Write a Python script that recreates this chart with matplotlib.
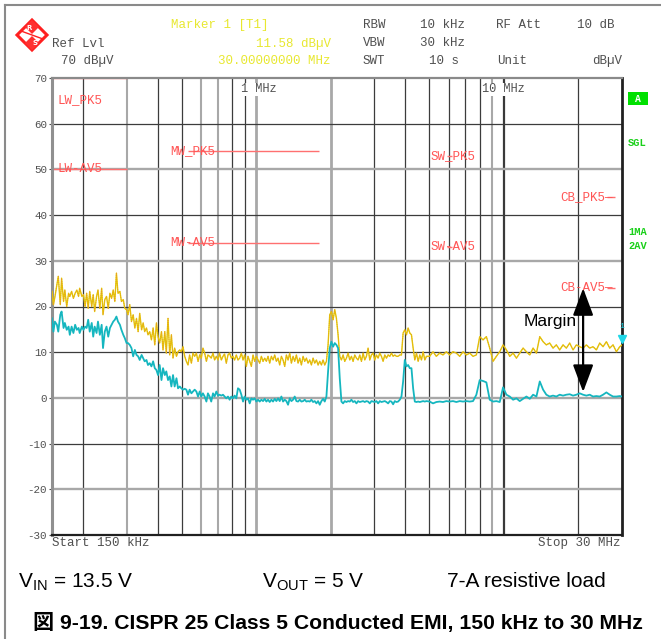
import matplotlib
matplotlib.use("Agg")
import matplotlib.pyplot as plt
from matplotlib.patches import Polygon, Rectangle

plt.rcParams["axes.unicode_minus"] = False

# ---- sweep data: frequency (MHz), peak and average detector (dBuV) ----
freq_mhz = [
    0.150, 0.152, 0.154, 0.157, 0.159, 0.162, 0.164, 0.167, 0.169, 0.172,
    0.175, 0.177, 0.180, 0.183, 0.186, 0.189, 0.192, 0.194, 0.198, 0.201,
    0.204, 0.207, 0.210, 0.213, 0.217, 0.220, 0.223, 0.227, 0.230, 0.234,
    0.238, 0.241, 0.245, 0.249, 0.253, 0.257, 0.261, 0.265, 0.269, 0.273,
    0.277, 0.282, 0.286, 0.291, 0.295, 0.300, 0.304, 0.309, 0.314, 0.319,
    0.324, 0.329, 0.334, 0.339, 0.345, 0.350, 0.355, 0.361, 0.366, 0.372,
    0.378, 0.384, 0.390, 0.396, 0.402, 0.408, 0.415, 0.421, 0.428, 0.434,
    0.441, 0.448, 0.455, 0.462, 0.469, 0.477, 0.484, 0.492, 0.499, 0.507,
    0.515, 0.523, 0.531, 0.539, 0.548, 0.556, 0.565, 0.574, 0.583, 0.592,
    0.601, 0.610, 0.620, 0.630, 0.639, 0.649, 0.659, 0.670, 0.680, 0.691,
    0.702, 0.712, 0.724, 0.735, 0.746, 0.758, 0.770, 0.782, 0.794, 0.806,
    0.819, 0.832, 0.845,
    0.8585, 0.8720, 0.8856, 0.8994, 0.9135, 0.9277, 0.9422, 0.9570, 0.9719, 0.9871,
    1.0025, 1.0182, 1.0341, 1.0502, 1.0667, 1.0833, 1.1002, 1.1174, 1.1349, 1.1526,
    1.1706, 1.1889, 1.2075, 1.2264, 1.2455, 1.2650, 1.2847, 1.3048, 1.3252, 1.3459,
    1.3669, 1.3883, 1.4100, 1.4320, 1.4544, 1.4771, 1.5002, 1.5236, 1.5474, 1.5716,
    1.5961, 1.6211, 1.6464, 1.6721, 1.6982, 1.7248, 1.7517, 1.7791, 1.8069, 1.8351,
    1.8638, 1.8929, 1.9225, 1.9525, 1.9830, 2.0140, 2.0455, 2.0774, 2.1099, 2.1428,
    2.1763, 2.2103, 2.2448, 2.2799, 2.3155, 2.3517, 2.3884, 2.4258, 2.4636, 2.5021,
    2.5412, 2.5809, 2.6213, 2.6622, 2.7038, 2.7460, 2.7889, 2.8325, 2.8767, 2.9217,
    2.9673, 3.0137, 3.0608, 3.1086, 3.1572, 3.2065, 3.2566, 3.3075, 3.3591, 3.4116,
    3.4649, 3.5190, 3.5740, 3.6298, 3.6866, 3.7441, 3.8026, 3.8621, 3.9224, 3.9837,
    4.0459, 4.1091, 4.1733, 4.2385, 4.3047, 4.3720, 4.4403, 4.5097, 4.5801, 4.6517,
    4.7243, 4.7981, 4.8731,
    5.020, 5.178, 5.341, 5.509, 5.683, 5.861, 6.046, 6.237, 6.433, 6.636,
    6.845, 7.060, 7.283, 7.512, 7.749, 7.993, 8.245, 8.504, 8.772, 9.049,
    9.333, 9.628, 9.931, 10.244, 10.567, 10.900, 11.243, 11.597, 11.963, 12.339,
    12.728, 13.129, 13.542, 13.969, 14.409, 14.849, 15.317, 15.799, 16.297, 16.810,
    17.340, 17.886, 18.449, 19.030, 19.629, 20.248, 20.885, 21.543, 22.221, 22.921,
    23.643, 24.388, 25.156, 25.948, 26.765, 27.608, 28.478, 29.375, 30.000,
]

peak_dbuv = [
    23.3, 20.4, 22.0, 24.7, 26.6, 20.4, 26.2, 21.1, 23.6, 20.0,
    22.9, 22.2, 23.3, 21.8, 22.9, 23.6, 22.2, 24.0, 22.2, 22.6,
    20.0, 22.9, 19.6, 23.3, 20.0, 22.6, 18.9, 22.2, 23.6, 19.6,
    24.0, 18.2, 21.5, 22.2, 19.6, 22.9, 21.8, 23.6, 21.1, 27.3,
    22.9, 23.3, 21.1, 21.5, 19.6, 19.3, 18.2, 20.4, 16.7, 18.2,
    15.3, 17.4, 14.5, 18.5, 14.9, 16.4, 14.5, 15.3, 13.8, 14.5,
    12.7, 15.3, 11.6, 16.4, 13.4, 12.0, 14.5, 10.5, 14.5, 9.8,
    17.4, 9.4, 13.8, 8.7, 10.9, 9.1, 10.1, 10.5, 10.1, 11.2,
    9.1, 8.0, 7.2, 9.4, 7.6, 9.8, 9.1, 9.8, 8.0, 9.4,
    8.7, 10.9, 9.8, 8.0, 9.4, 9.1, 8.7, 9.8, 8.3, 9.1,
    8.3, 9.8, 8.3, 9.1, 9.6, 7.6, 9.4, 9.8, 8.7, 9.1,
    8.3, 9.4, 8.3,
    8.7, 9.8, 8.3, 9.4, 6.9, 9.1, 8.0, 6.9, 9.4, 8.0,
    9.1, 8.3, 7.6, 9.1, 8.0, 8.7, 8.0, 9.1, 7.6, 9.1,
    8.3, 9.4, 8.0, 8.7, 7.2, 9.1, 8.3, 6.9, 9.4, 8.3,
    9.8, 7.6, 9.1, 8.0, 9.4, 7.6, 8.7, 7.2, 9.1, 8.0,
    8.7, 7.6, 8.3, 7.2, 8.7, 7.6, 8.3, 7.2, 8.0, 7.2,
    8.3, 7.2, 8.0, 11.6, 18.2, 18.9, 17.1, 19.3, 17.4, 13.8,
    9.1, 8.3, 9.4, 8.0, 8.7, 9.8, 8.3, 9.1, 8.0, 9.4,
    8.7, 8.3, 9.4, 8.0, 9.8, 8.3, 9.1, 10.9, 8.3, 9.4,
    9.8, 8.3, 9.4, 8.7, 9.8, 9.1, 8.0, 9.4, 8.7, 9.4,
    9.1, 9.8, 9.1, 9.4, 9.1, 9.1, 9.4, 9.4, 14.2, 14.9,
    13.8, 15.3, 14.2, 13.8, 10.9, 8.3, 9.8, 8.0, 9.4, 8.3,
    10.1, 8.3, 9.1,
    9.1, 10.1, 9.1, 9.8, 9.4, 10.1, 9.4, 10.1, 9.8, 9.1,
    10.1, 9.4, 9.8, 9.1, 9.4, 13.4, 12.7, 13.4, 10.9, 8.0,
    9.1, 10.1, 11.6, 10.5, 9.1, 9.8, 8.7, 9.8, 10.9, 10.1,
    9.4, 10.9, 9.8, 13.4, 12.3, 11.6, 12.0, 10.9, 11.6, 10.5,
    11.6, 10.9, 12.0, 10.5, 11.6, 11.2, 10.9, 11.6, 10.9, 11.2,
    10.5, 12.0, 11.2, 12.3, 10.9, 11.6, 10.1, 11.2, 11.58,
]

avg_dbuv = [
    17.4, 14.5, 16.7, 16.0, 14.5, 18.2, 18.9, 15.3, 16.4, 14.9,
    15.6, 13.8, 15.6, 14.2, 16.0, 14.9, 15.3, 14.2, 15.6, 14.9,
    15.6, 15.3, 17.1, 14.5, 16.4, 13.4, 15.6, 14.2, 16.7, 13.8,
    16.0, 10.9, 14.5, 15.6, 13.4, 15.3, 16.0, 16.7, 17.1, 17.8,
    16.7, 16.0, 14.9, 13.8, 13.1, 12.0, 12.0, 11.6, 10.9, 9.1,
    10.5, 9.4, 9.1, 8.3, 9.4, 8.7, 8.0, 8.3, 7.2, 7.6,
    6.9, 8.0, 6.5, 6.1, 5.0, 7.2, 3.9, 6.5, 5.0, 5.8,
    3.9, 4.7, 2.5, 5.0, 2.5, 4.3, 2.1, 2.5, 2.1, 1.8,
    2.0, 1.8, 0.7, 1.8, 1.0, 1.4, 1.8, 1.4, 0.3, 1.4,
    0.3, 1.0, 0.3, -0.8, 1.0, 0.3, -0.8, 1.0, 0.3, 1.4,
    0.5, 0.7, 0.5, 0.7, 0.3, -0.1, 0.3, -0.4, 0.3, -0.1,
    0.5, -0.1, 2.1,
    1.8, 0.7, -0.8, 0.3, -0.4, -0.1, -1.2, -0.1, -0.4, -0.1,
    -0.8, -0.4, -0.8, -0.4, -0.7, -0.2, -0.8, -0.4, -0.9, -0.4,
    -0.8, -0.2, -0.7, -0.1, -0.7, 0.3, -0.8, -0.4, -0.7, -1.5,
    -0.1, -0.7, -0.4, 0.3, -0.7, -0.8, -0.4, -0.8, -0.7, -0.4,
    -0.8, -0.7, -0.8, -0.4, -0.9, -0.7, -1.2, -0.7, -1.5, -0.7,
    -0.2, -0.8, 0.3, 5.8, 10.9, 12.3, 11.2, 12.0, 11.6, 10.9,
    4.3, -0.8, -1.2, -0.7, -0.9, -0.7, -0.8, -0.4, -0.9, -0.7,
    -1.2, -0.7, -0.9, -0.8, -0.7, -0.9, -0.7, -0.8, -1.2, -0.7,
    -0.8, -0.9, -0.7, -1.2, -0.7, -0.9, -0.8, -0.7, -0.9, -1.2,
    -0.7, -0.8, -1.4, -0.7, -0.9, -0.8, -0.4, 0.3, 3.6, 8.3,
    6.9, 7.2, 6.5, 6.5, 2.1, -0.8, -0.9, -0.8, -0.9, -0.8,
    -0.7, -0.8, -0.7,
    -0.8, -1.2, -0.9, -0.8, -0.9, -0.7, -0.8, -0.7, -0.9, -0.7,
    -0.8, -0.7, -0.8, -0.7, 0.7, 3.9, 3.7, 3.4, -0.4, -0.8,
    -0.7, -0.9, 2.3, 0.7, 0.3, -0.4, -0.1, -0.7, -0.2, 0.3,
    -0.2, 0.7, 0.3, 3.6, 1.8, 0.7, 0.3, 0.5, 0.3, 0.7,
    0.5, 0.7, 0.8, 0.5, 0.7, 1.0, 0.7, 0.5, 0.7, 0.3,
    0.4, 0.3, 0.7, 1.2, 0.7, 0.3, 0.3, 0.4, 0.3,
]

# ---- CISPR 25 class 5 limits (band start/stop in MHz, dBuV) ----
band_names = ["LW", "MW", "SW", "CB"]
band_start = [0.15, 0.53, 5.9, 26.0]
band_stop = [0.30, 1.8, 6.2, 28.0]
limit_pk = [70, 54, 53, 44]
limit_av = [50, 34, 33, 24]

marker_freq = 30.0
marker_level = 11.58

W, H = 661, 639
fig = plt.figure(figsize=(W / 100, H / 100), dpi=100)
fig.patch.set_facecolor("white")

MONO = "Liberation Mono"
GRAY_TXT = "#505050"
YEL_TXT = "#e8e830"
RED = "#ff5555"
GREEN = "#1ad01a"

ax = fig.add_axes([52 / W, 104 / H, 570 / W, 457 / H])
ax.set_xscale("log")
ax.set_xlim(0.15, 30)
ax.set_ylim(-30, 70)
ax.set_xticks([])
ax.minorticks_off()
ax.set_yticks(range(-30, 71, 10))
ax.tick_params(axis="y", length=2.5, width=0.8, color=GRAY_TXT, pad=1,
               labelsize=7.8, labelcolor=GRAY_TXT)
for lab in ax.get_yticklabels():
    lab.set_family(MONO)

ax.spines["left"].set_color("#909090")
ax.spines["left"].set_linewidth(2.2)
ax.spines["top"].set_color("#8a8a8a")
ax.spines["top"].set_linewidth(1.6)
ax.spines["right"].set_color("#202020")
ax.spines["right"].set_linewidth(2.0)
ax.spines["bottom"].set_color("#202020")
ax.spines["bottom"].set_linewidth(1.6)

# grid: analyzer screen mixes thin dark and soft grey lines
grid_f = [0.2, 0.3, 0.4, 0.5, 0.6, 0.7, 0.8, 0.9,
          1, 2, 3, 4, 5, 6, 7, 8, 9, 10, 20]
soft_f = [0.3, 0.6, 0.7, 1, 2, 9]
for f in grid_f:
    if f in soft_f:
        ax.axvline(f, color="#a8a8a8", lw=2.0 if f in (1, 2) else 1.5, zorder=1)
    elif f == 10:
        ax.axvline(f, color="#3a3a3a", lw=1.6, zorder=1)
    else:
        ax.axvline(f, color="#3c3c3c", lw=0.9, zorder=1)
for lvl in range(-20, 70, 10):
    if lvl in (50, 30, 0, -20):
        ax.axhline(lvl, color="#a8a8a8", lw=1.7, zorder=1)
    else:
        ax.axhline(lvl, color="#3c3c3c", lw=0.9, zorder=1)

# limit lines
ax.hlines(limit_pk, band_start, band_stop, color="#ff7070", lw=1.0, zorder=2)
ax.hlines(limit_av, band_start, band_stop, color="#ff7070", lw=1.0, zorder=2)

lab_x = [0.158, 0.449, 5.04, 16.9]
for i, name in enumerate(band_names):
    pk_txt = name + "_PK5" + ("\u2014" if name == "CB" else "")
    av_txt = name + "-AV5" + ("\u2014" if name == "CB" else "")
    pk_y = 65.2 if name == "LW" else limit_pk[i]
    ax.text(lab_x[i], pk_y, pk_txt, color=RED, family=MONO, fontsize=9,
            va="center", ha="left", zorder=4)
    ax.text(lab_x[i], limit_av[i], av_txt, color=RED, family=MONO, fontsize=9,
            va="center", ha="left", zorder=4)

# traces
ax.plot(freq_mhz, peak_dbuv, color="#e0d000", lw=1.0, zorder=3)
ax.plot(freq_mhz, peak_dbuv, color="#f08a30", lw=0.6,
        linestyle=(0, (1, 1.5)), zorder=3)
ax.plot(freq_mhz, avg_dbuv, color="#15b6bf", lw=1.3, zorder=3)

# marker 1
ax.plot([marker_freq], [marker_level + 1.3], marker="v", color="#20d8e8",
        ms=6, clip_on=False, zorder=5)
ax.text(marker_freq, marker_level + 3.2, "1", color="#20d8e8", fontsize=6,
        ha="center", va="bottom", family=MONO, clip_on=False, zorder=5)

# margin arrow
ax.annotate("", xy=(20.9, 1.3), xytext=(20.9, limit_av[3]),
            arrowprops=dict(arrowstyle="<|-|>,head_length=1.2,head_width=0.45",
                            color="black", lw=1.6, mutation_scale=14,
                            shrinkA=0, shrinkB=0), zorder=6)
ax.text(15.4, 16.8, "Margin", fontsize=12.5, family="Liberation Sans",
        ha="center", va="center", color="black", zorder=6)

# decade labels inside the grid
ax.text(0.869, 67.5, "1 MHz", family=MONO, fontsize=8.6, color=GRAY_TXT,
        va="center", ha="left", zorder=4,
        bbox=dict(facecolor="white", edgecolor="none", pad=0.3))
ax.text(8.2, 67.5, "10 MHz", family=MONO, fontsize=8.6, color=GRAY_TXT,
        va="center", ha="left", zorder=4,
        bbox=dict(facecolor="white", edgecolor="none", pad=0.3))

# ---- screen furniture drawn in pixel coordinates ----
ov = fig.add_axes([0, 0, 1, 1], zorder=10)
ov.set_xlim(0, W)
ov.set_ylim(H, 0)
ov.axis("off")
ov.patch.set_alpha(0)

ov.plot([5, 5], [5, H], color="#8a8a8a", lw=1.5)
ov.plot([5, W], [5, 5], color="#8a8a8a", lw=1.5)

# R&S logo
ov.add_patch(Polygon([(32, 20), (47, 35), (32, 50), (17, 35)], closed=True,
                     facecolor="white", edgecolor="#ff2020", lw=2.2))
ov.add_patch(Polygon([(25, 27), (32, 20), (39, 27), (32, 34)], closed=True,
                     facecolor="#ff3030", edgecolor="none"))
ov.add_patch(Polygon([(25, 43), (32, 36), (39, 43), (32, 50)], closed=True,
                     facecolor="#ff3030", edgecolor="none"))
ov.plot([21, 43], [31, 39], color="#ff2020", lw=1.0)
ov.text(29, 27.5, "R", color="white", fontsize=5, ha="center", va="center",
        fontweight="bold")
ov.text(35, 43, "S", color="white", fontsize=5, ha="center", va="center",
        fontweight="bold")

hdr = dict(family=MONO, fontsize=9, va="center")
ov.text(171, 25, "Marker 1 [T1]", color=YEL_TXT, ha="left", **hdr)
ov.text(52, 44, "Ref Lvl", color=GRAY_TXT, ha="left", **hdr)
ov.text(331, 44, "11.58 dB\u00b5V", color=YEL_TXT, ha="right", **hdr)
ov.text(61, 61, "70 dB\u00b5V", color=GRAY_TXT, ha="left", **hdr)
ov.text(331, 61, "30.00000000 MHz", color=YEL_TXT, ha="right", **hdr)
ov.text(363, 25, "RBW", color=GRAY_TXT, ha="left", **hdr)
ov.text(420, 25, "10 kHz", color=GRAY_TXT, ha="left", **hdr)
ov.text(496, 25, "RF Att", color=GRAY_TXT, ha="left", **hdr)
ov.text(577, 25, "10 dB", color=GRAY_TXT, ha="left", **hdr)
ov.text(363, 43, "VBW", color=GRAY_TXT, ha="left", **hdr)
ov.text(420, 43, "30 kHz", color=GRAY_TXT, ha="left", **hdr)
ov.text(363, 61, "SWT", color=GRAY_TXT, ha="left", **hdr)
ov.text(429, 61, "10 s", color=GRAY_TXT, ha="left", **hdr)
ov.text(497, 61, "Unit", color=GRAY_TXT, ha="left", **hdr)
ov.text(592, 61, "dB\u00b5V", color=GRAY_TXT, ha="left", **hdr)

# status column on the right
ov.add_patch(Rectangle((628, 92), 20, 13, facecolor="#00e000", edgecolor="none"))
ov.text(638, 98.5, "A", color="white", family=MONO, fontsize=7,
        fontweight="bold", ha="center", va="center")
for txt, yy in [("SGL", 143), ("1MA", 232), ("2AV", 246)]:
    ov.text(628, yy, txt, color=GREEN, family=MONO, fontsize=7.5,
            fontweight="bold", ha="left", va="center")

ov.text(52, 543, "Start 150 kHz", color=GRAY_TXT, ha="left", **hdr)
ov.text(621, 543, "Stop 30 MHz", color=GRAY_TXT, ha="right", **hdr)

cap = dict(family="Liberation Sans", fontsize=15, va="baseline", color="black")
ov.text(18, 587, r"V$_{\mathregular{IN}}$ = 13.5 V", ha="left", **cap)
ov.text(262, 587, r"V$_{\mathregular{OUT}}$ = 5 V", ha="left", **cap)
ov.text(447, 587, "7-A resistive load", ha="left", **cap)

ov.text(338, 629, "\u56f3 9-19. CISPR 25 Class 5 Conducted EMI, 150 kHz to 30 MHz",
        family=["Liberation Sans", "Noto Sans CJK JP"], fontsize=15.2,
        fontweight="bold", ha="center", va="baseline", color="black")

fig.savefig("out.png", dpi=100)
